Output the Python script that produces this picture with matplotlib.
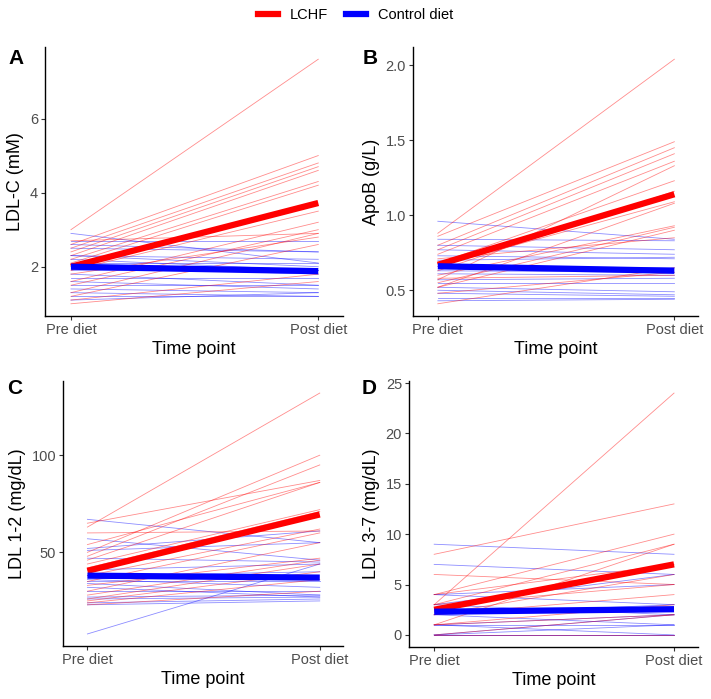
import matplotlib
matplotlib.use("Agg")
import matplotlib.pyplot as plt
from matplotlib.lines import Line2D

plt.rcParams['font.family'] = ['Liberation Sans', 'DejaVu Sans']

time_labels = ["Pre diet", "Post diet"]

# A: LDL-C (mM)
a_lchf_pre = [3.0, 2.6, 2.5, 2.4, 2.3, 2.2, 2.1, 1.9, 1.6, 1.5, 2.7, 1.3, 1.8, 1.2, 1.1, 1.0]
a_lchf_post = [7.6, 5.0, 4.8, 4.7, 4.6, 4.3, 4.2, 3.5, 3.2, 3.0, 2.9, 2.9, 2.8, 2.6, 1.8, 1.6]
a_ctrl_pre = [2.9, 2.7, 2.6, 2.5, 2.3, 2.3, 2.2, 2.1, 2.0, 1.9, 1.8, 1.7, 1.6, 1.5, 1.4, 1.3, 1.2, 1.1]
a_ctrl_post = [2.1, 2.7, 2.4, 2.4, 2.2, 2.0, 1.9, 2.1, 1.8, 1.9, 1.5, 1.7, 1.4, 1.5, 1.3, 1.2, 1.2, 1.3]
a_mean_lchf = [2.0, 3.72]
a_mean_ctrl = [2.0, 1.88]

# B: ApoB (g/L)
b_lchf_pre = [0.88, 0.86, 0.80, 0.77, 0.74, 0.57, 0.68, 0.63, 0.66, 0.52, 0.60, 0.55, 0.52, 0.71, 0.41, 0.48, 0.58]
b_lchf_post = [2.04, 1.49, 1.45, 1.41, 1.36, 1.33, 1.23, 1.16, 1.09, 1.08, 0.93, 0.92, 0.90, 0.85, 0.65, 0.62, 0.60]
b_ctrl_pre = [0.96, 0.84, 0.80, 0.77, 0.73, 0.70, 0.66, 0.63, 0.61, 0.57, 0.55, 0.52, 0.50, 0.48, 0.45, 0.43]
b_ctrl_post = [0.84, 0.83, 0.77, 0.74, 0.71, 0.72, 0.65, 0.62, 0.60, 0.58, 0.55, 0.49, 0.47, 0.46, 0.45, 0.44]
b_mean_lchf = [0.67, 1.14]
b_mean_ctrl = [0.66, 0.63]

# C: LDL 1-2 (mg/dL)
c_lchf_pre = [63, 65, 60, 54, 50, 48, 46, 44, 42, 38, 35, 33, 30, 28, 26, 25, 24, 23]
c_lchf_post = [132, 87, 61, 86, 100, 95, 86, 72, 71, 62, 60, 47, 55, 46, 44, 40, 36, 30]
c_ctrl_pre = [67, 57, 52, 51, 47, 41, 38, 36, 35, 34, 32, 30, 27, 26, 24, 23, 8]
c_ctrl_post = [55, 46, 61, 55, 45, 44, 40, 32, 35, 28, 27, 30, 28, 27, 26, 25, 44]
c_mean_lchf = [40.5, 69.5]
c_mean_ctrl = [38.0, 37.0]

# D: LDL 3-7 (mg/dL)
d_lchf_pre = [3, 8, 4, 3, 1, 6, 4, 2, 3, 2, 1, 0, 1, 0]
d_lchf_post = [24, 13, 10, 9, 9, 5, 7, 6, 5, 4, 3, 2, 2, 0]
d_ctrl_pre = [9, 7, 4, 4, 3, 3, 2, 2, 1, 1, 0, 0, 0, 1, 0]
d_ctrl_post = [8, 6, 3, 5, 2, 6, 3, 1, 0, 2, 2, 0, 1, 1, 0]
d_mean_lchf = [2.5, 7.0]
d_mean_ctrl = [2.3, 2.55]

panels = [
    ("A", "LDL-C (mM)", a_lchf_pre, a_lchf_post, a_ctrl_pre, a_ctrl_post, a_mean_lchf, a_mean_ctrl, [2, 4, 6], None),
    ("B", "ApoB (g/L)", b_lchf_pre, b_lchf_post, b_ctrl_pre, b_ctrl_post, b_mean_lchf, b_mean_ctrl, [0.5, 1.0, 1.5, 2.0], "%.1f"),
    ("C", "LDL 1-2 (mg/dL)", c_lchf_pre, c_lchf_post, c_ctrl_pre, c_ctrl_post, c_mean_lchf, c_mean_ctrl, [50, 100], None),
    ("D", "LDL 3-7 (mg/dL)", d_lchf_pre, d_lchf_post, d_ctrl_pre, d_ctrl_post, d_mean_lchf, d_mean_ctrl, [0, 5, 10, 15, 20, 25], None),
]

W, H = 711, 699
# axes boxes in pixels: left, top, right, bottom
boxes = [(45, 47, 343, 316), (413, 47, 698, 316), (63, 381, 343, 646), (409, 381, 698, 647)]
label_pos = [(8, 58), (363, 58), (7, 389), (362, 389)]

fig = plt.figure(figsize=(W / 100, H / 100), dpi=100)

for (tag, ylab, lp, lq, cp, cq, ml, mc, ticks, fmt), (l, t, r, b), (lx, ly) in zip(panels, boxes, label_pos):
    ax = fig.add_axes([l / W, 1 - b / H, (r - l) / W, (b - t) / H])
    for p, q in zip(cp, cq):
        ax.plot([0, 1], [p, q], color="blue", lw=0.6, alpha=0.45)
    for p, q in zip(lp, lq):
        ax.plot([0, 1], [p, q], color="red", lw=0.6, alpha=0.45)
    ax.plot([0, 1], ml, color="red", lw=4.5, solid_capstyle="butt")
    ax.plot([0, 1], mc, color="blue", lw=4.5, solid_capstyle="butt")

    allv = lp + lq + cp + cq
    lo, hi = min(allv), max(allv)
    pad = (hi - lo) * 0.05
    ax.set_ylim(lo - pad, hi + pad)
    ax.set_xlim(-0.105, 1.1)
    ax.set_xticks([0, 1])
    ax.set_xticklabels(time_labels)
    ax.set_yticks(ticks)
    if fmt:
        ax.set_yticklabels([fmt % v for v in ticks])
    for s in ("top", "right"):
        ax.spines[s].set_visible(False)
    for s in ("left", "bottom"):
        ax.spines[s].set_linewidth(1.0)
    ax.tick_params(axis="both", length=3, width=0.8, color="#333333",
                   labelsize=10.5, labelcolor="#4D4D4D", pad=2)
    ax.set_xlabel("Time point", fontsize=13, labelpad=3)
    ax.set_ylabel(ylab, fontsize=13, labelpad=4)
    fig.text(lx / W, 1 - ly / H, tag, fontsize=15, fontweight="bold", va="center", ha="left")

handles = [Line2D([], [], color="red", lw=4.5), Line2D([], [], color="blue", lw=4.5)]
fig.legend(handles, ["LCHF", "Control diet"], loc="center", bbox_to_anchor=(0.5, 1 - 15 / H),
           ncol=2, frameon=False, fontsize=10.5, handlelength=1.4, columnspacing=1.2)

fig.savefig("out.png", dpi=100)
